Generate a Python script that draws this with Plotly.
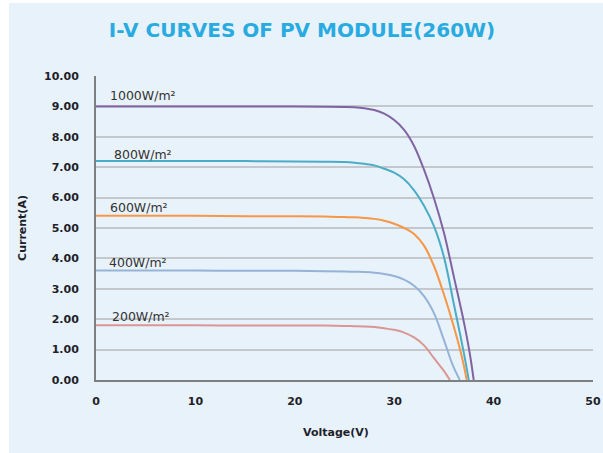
import plotly.graph_objects as go

# Data
labels = ["1000W/m²", "800W/m²", "600W/m²", "400W/m²", "200W/m²"]
colors = ["#8064A2", "#4BACC6", "#F79646", "#95B3D7", "#D99694"]

v_1000 = [0, 5, 10, 15, 20, 23, 25, 26, 27, 28, 29, 30, 31, 32, 33, 34, 35, 36, 37, 37.6, 38.0]
i_1000 = [9.0, 9.0, 9.0, 9.0, 9.0, 8.99, 8.98, 8.97, 8.94, 8.88, 8.76, 8.55, 8.23, 7.70, 6.92, 5.98, 4.85, 3.40, 1.92, 0.88, 0]

v_800 = [0, 5, 10, 15, 20, 23, 25, 26, 27, 28, 29, 30, 31, 32, 33, 34, 35, 36, 37, 37.5]
i_800 = [7.2, 7.2, 7.2, 7.2, 7.19, 7.18, 7.17, 7.15, 7.11, 7.06, 6.95, 6.82, 6.60, 6.24, 5.73, 5.06, 4.05, 2.50, 0.90, 0]

v_600 = [0, 5, 10, 15, 20, 23, 25, 26, 27, 28, 29, 30, 31, 32, 33, 34, 35, 36, 36.8, 37.3]
i_600 = [5.4, 5.4, 5.4, 5.39, 5.39, 5.38, 5.36, 5.35, 5.33, 5.30, 5.24, 5.14, 5.00, 4.80, 4.42, 3.75, 2.82, 1.75, 0.77, 0]

v_400 = [0, 5, 10, 15, 20, 23, 25, 26, 27, 28, 29, 30, 31, 32, 33, 34, 35, 35.9, 36.6]
i_400 = [3.6, 3.6, 3.6, 3.59, 3.59, 3.58, 3.57, 3.56, 3.55, 3.53, 3.49, 3.42, 3.30, 3.10, 2.76, 2.20, 1.32, 0.48, 0]

v_200 = [0, 5, 10, 15, 20, 23, 25, 26, 27, 28, 29, 30, 31, 32, 33, 34, 35, 35.6]
i_200 = [1.8, 1.8, 1.8, 1.79, 1.79, 1.79, 1.78, 1.77, 1.76, 1.74, 1.70, 1.65, 1.56, 1.40, 1.14, 0.72, 0.30, 0]

label_x = [1.2, 1.6, 1.2, 1.1, 1.4]
label_y = [9.36, 7.42, 5.67, 3.85, 2.08]

x_ticks = [0, 10, 20, 30, 40, 50]
y_ticks = [0, 1, 2, 3, 4, 5, 6, 7, 8, 9, 10]

series = [(v_1000, i_1000), (v_800, i_800), (v_600, i_600), (v_400, i_400), (v_200, i_200)]

FONT = "DejaVu Sans"
DARK = "#1F1F2A"

fig = go.Figure()
for (vx, iy), name, c in zip(series, labels, colors):
    fig.add_trace(go.Scatter(x=vx, y=iy, mode="lines", name=name,
                             line=dict(color=c, width=2, shape="spline", smoothing=1.0),
                             showlegend=False, hoverinfo="skip"))

for name, lx, ly in zip(labels, label_x, label_y):
    fig.add_annotation(x=lx, y=ly, text=name, showarrow=False, xanchor="left", yanchor="middle",
                       font=dict(family=FONT, size=12.5, color="#333333"))

# axis titles
fig.add_annotation(xref="paper", yref="paper", x=0.483, y=-0.174, text="<b>Voltage(V)</b>",
                   showarrow=False, xanchor="center", yanchor="middle",
                   font=dict(family=FONT, size=11, color=DARK))
fig.add_annotation(xref="paper", yref="paper", x=-0.149, y=0.5, text="<b>Current(A)</b>",
                   showarrow=False, xanchor="center", yanchor="middle", textangle=-90,
                   font=dict(family=FONT, size=11, color=DARK))

BG = "#E8F2FA"
fig.add_shape(type="rect", xref="paper", yref="paper", x0=-0.175, x1=1.05, y0=-0.26, y1=1.24,
              fillcolor=BG, line=dict(width=0), layer="below")

fig.update_layout(
    width=603, height=453,
    margin=dict(l=96, r=10, t=76, b=73),
    paper_bgcolor="white",
    plot_bgcolor="rgba(0,0,0,0)",
    title=dict(text="<b>I-V CURVES OF PV MODULE(260W)</b>", x=302 / 603, xref="container", xanchor="center",
               y=1 - 30 / 453, yref="container", yanchor="middle",
               font=dict(family="DejaVu Sans", size=20, color="#29ABE2")),
    xaxis=dict(range=[0, 50], tickvals=x_ticks, ticktext=[f"<b>{t}</b>" for t in x_ticks],
               showgrid=False, zeroline=False, showline=True, linecolor="#7F7F7F", linewidth=2,
               ticks="", ticklabelstandoff=10, automargin=False,
               tickfont=dict(family=FONT, size=11, color=DARK)),
    yaxis=dict(range=[0, 10], tickvals=y_ticks, ticktext=[f"<b>{t:.2f}</b>" for t in y_ticks],
               showgrid=True, gridcolor="#C4C8CC", gridwidth=2, zeroline=False,
               showline=True, linecolor="#7F7F7F", linewidth=2, ticks="", ticklabelstandoff=13,
               automargin=False,
               tickfont=dict(family=FONT, size=11, color=DARK)),
)

# remove the default page margin so the figure fills the 603x453 window exactly
fig.write_html("out.html", config={"displayModeBar": False},
               post_script="document.body.style.margin='0';document.body.style.overflow='hidden';")
